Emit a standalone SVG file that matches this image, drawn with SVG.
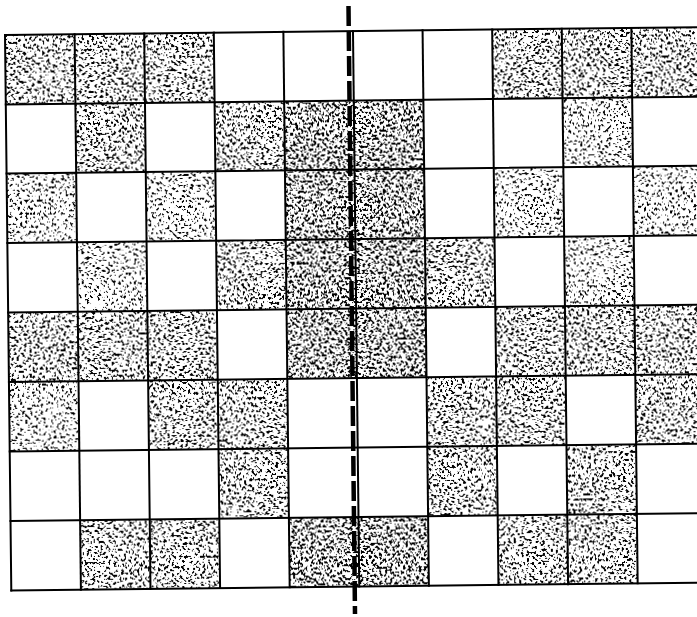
<svg xmlns="http://www.w3.org/2000/svg" width="697" height="617" viewBox="0 0 697 617">
<defs>
<style>
.grid line{stroke:#000;stroke-width:2;stroke-linecap:square}
.cell{fill:#000}
.axis{stroke:#000;stroke-width:4.5;stroke-dasharray:20 5;fill:none}
</style>
<filter id="light" x="0" y="0" width="697" height="617" filterUnits="userSpaceOnUse">
<feTurbulence type="fractalNoise" baseFrequency="0.38" numOctaves="2" seed="7" result="n"/>
<feColorMatrix in="n" type="matrix" values="0 0 0 0 0  0 0 0 0 0  0 0 0 0 0  -30 0 0 0 12.0" result="m"/>
<feComposite in="m" in2="SourceGraphic" operator="in"/>
</filter>
<filter id="mid" x="0" y="0" width="697" height="617" filterUnits="userSpaceOnUse">
<feTurbulence type="fractalNoise" baseFrequency="0.38" numOctaves="2" seed="7" result="n"/>
<feColorMatrix in="n" type="matrix" values="0 0 0 0 0  0 0 0 0 0  0 0 0 0 0  -30 0 0 0 12.9" result="m"/>
<feComposite in="m" in2="SourceGraphic" operator="in"/>
</filter>
<filter id="dark" x="0" y="0" width="697" height="617" filterUnits="userSpaceOnUse">
<feTurbulence type="fractalNoise" baseFrequency="0.38" numOctaves="2" seed="7" result="n"/>
<feColorMatrix in="n" type="matrix" values="0 0 0 0 0  0 0 0 0 0  0 0 0 0 0  -30 0 0 0 13.9" result="m"/>
<feComposite in="m" in2="SourceGraphic" operator="in"/>
</filter>
</defs>
<rect width="697" height="617" fill="#fff"/>
<g id="board" transform="rotate(-0.65 5 35)">
<g id="cells-light" filter="url(#light)" class="cell">
<rect x="5" y="173.5" width="69.6" height="69.5"/>
<rect x="561.8" y="104.5" width="69.6" height="69.5"/>
<rect x="492.2" y="173.5" width="69.6" height="69.5"/>
<rect x="561.8" y="243" width="69.6" height="69.5"/>
<rect x="631.4" y="173.5" width="69.6" height="69.5"/>
<rect x="74.6" y="243" width="69.6" height="69.5"/>
<rect x="5" y="382" width="69.6" height="69.5"/>
<rect x="144.2" y="173.5" width="69.6" height="69.5"/>
</g>
<g id="cells-mid" filter="url(#mid)" class="cell">
<rect x="5" y="35" width="69.6" height="69.5"/>
<rect x="74.6" y="35" width="69.6" height="69.5"/>
<rect x="144.2" y="35" width="69.6" height="69.5"/>
<rect x="492.2" y="35" width="69.6" height="69.5"/>
<rect x="561.8" y="35" width="69.6" height="69.5"/>
<rect x="631.4" y="35" width="69.6" height="69.5"/>
<rect x="74.6" y="104.5" width="69.6" height="69.5"/>
<rect x="213.8" y="104.5" width="69.6" height="69.5"/>
<rect x="213.8" y="243" width="69.6" height="69.5"/>
<rect x="422.6" y="243" width="69.6" height="69.5"/>
<rect x="5" y="312.5" width="69.6" height="69.5"/>
<rect x="74.6" y="312.5" width="69.6" height="69.5"/>
<rect x="144.2" y="312.5" width="69.6" height="69.5"/>
<rect x="492.2" y="312.5" width="69.6" height="69.5"/>
<rect x="561.8" y="312.5" width="69.6" height="69.5"/>
<rect x="631.4" y="312.5" width="69.6" height="69.5"/>
<rect x="144.2" y="382" width="69.6" height="69.5"/>
<rect x="213.8" y="382" width="69.6" height="69.5"/>
<rect x="422.6" y="382" width="69.6" height="69.5"/>
<rect x="492.2" y="382" width="69.6" height="69.5"/>
<rect x="631.4" y="382" width="69.6" height="69.5"/>
<rect x="213.8" y="451.5" width="69.6" height="69.5"/>
<rect x="422.6" y="451.5" width="69.6" height="69.5"/>
<rect x="561.8" y="451.5" width="69.6" height="69.5"/>
<rect x="74.6" y="521" width="69.6" height="69.5"/>
<rect x="144.2" y="521" width="69.6" height="69.5"/>
<rect x="492.2" y="521" width="69.6" height="69.5"/>
<rect x="561.8" y="521" width="69.6" height="69.5"/>
</g>
<g id="cells-dark" filter="url(#dark)" class="cell">
<rect x="283.4" y="104.5" width="69.6" height="69.5"/>
<rect x="353" y="104.5" width="69.6" height="69.5"/>
<rect x="283.4" y="173.5" width="69.6" height="69.5"/>
<rect x="353" y="173.5" width="69.6" height="69.5"/>
<rect x="283.4" y="243" width="69.6" height="69.5"/>
<rect x="353" y="243" width="69.6" height="69.5"/>
<rect x="283.4" y="312.5" width="69.6" height="69.5"/>
<rect x="353" y="312.5" width="69.6" height="69.5"/>
<rect x="283.4" y="521" width="69.6" height="69.5"/>
<rect x="353" y="521" width="69.6" height="69.5"/>
</g>
<g id="grid" class="grid">
<line x1="5" y1="35" x2="701" y2="35"/>
<line x1="5" y1="104.5" x2="701" y2="104.5"/>
<line x1="5" y1="173.5" x2="701" y2="173.5"/>
<line x1="5" y1="243" x2="701" y2="243"/>
<line x1="5" y1="312.5" x2="701" y2="312.5"/>
<line x1="5" y1="382" x2="701" y2="382"/>
<line x1="5" y1="451.5" x2="701" y2="451.5"/>
<line x1="5" y1="521" x2="701" y2="521"/>
<line x1="5" y1="590.5" x2="701" y2="590.5"/>
<line x1="5" y1="35" x2="5" y2="590.5"/>
<line x1="74.6" y1="35" x2="74.6" y2="590.5"/>
<line x1="144.2" y1="35" x2="144.2" y2="590.5"/>
<line x1="213.8" y1="35" x2="213.8" y2="590.5"/>
<line x1="283.4" y1="35" x2="283.4" y2="590.5"/>
<line x1="353" y1="35" x2="353" y2="590.5"/>
<line x1="422.6" y1="35" x2="422.6" y2="590.5"/>
<line x1="492.2" y1="35" x2="492.2" y2="590.5"/>
<line x1="561.8" y1="35" x2="561.8" y2="590.5"/>
<line x1="631.4" y1="35" x2="631.4" y2="590.5"/>
</g>
</g>
<g id="connectors">
<line class="axis" x1="348.5" y1="6" x2="355" y2="614"/>
</g>
</svg>
